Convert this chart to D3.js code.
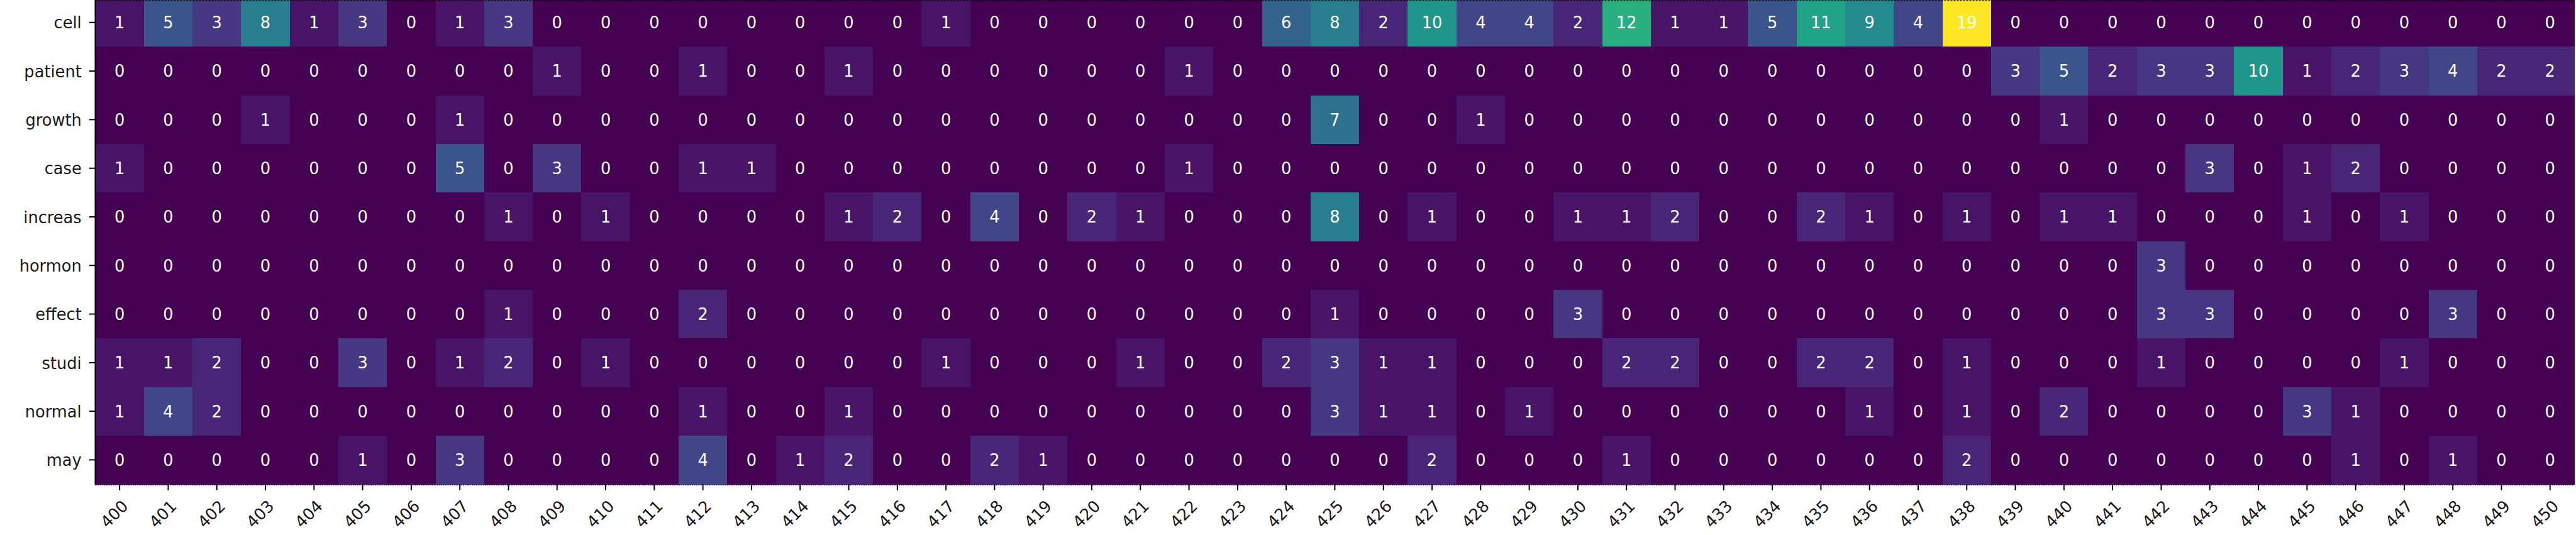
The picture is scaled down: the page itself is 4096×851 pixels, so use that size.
<!DOCTYPE html>
<html>
<head>
<meta charset="utf-8">
<script src="https://cdn.jsdelivr.net/npm/d3@7"></script>
<style>
  html, body { margin: 0; padding: 0; background: #ffffff; overflow: hidden; }
  svg { display: block; }
</style>
</head>
<body>
<script>
// ---- data ----
const columns = [400,401,402,403,404,405,406,407,408,409,410,411,412,413,414,415,416,417,418,419,420,421,422,423,424,425,426,427,428,429,430,431,432,433,434,435,436,437,438,439,440,441,442,443,444,445,446,447,448,449,450];
const terms = ["cell","patient","growth","case","increas","hormon","effect","studi","normal","may"];

const cell    = [1,5,3,8,1,3,0,1,3,0,0,0,0,0,0,0,0,1,0,0,0,0,0,0,6,8,2,10,4,4,2,12,1,1,5,11,9,4,19,0,0,0,0,0,0,0,0,0,0,0,0];
const patient = [0,0,0,0,0,0,0,0,0,1,0,0,1,0,0,1,0,0,0,0,0,0,1,0,0,0,0,0,0,0,0,0,0,0,0,0,0,0,0,3,5,2,3,3,10,1,2,3,4,2,2];
const growth  = [0,0,0,1,0,0,0,1,0,0,0,0,0,0,0,0,0,0,0,0,0,0,0,0,0,7,0,0,1,0,0,0,0,0,0,0,0,0,0,0,1,0,0,0,0,0,0,0,0,0,0];
const caseRow = [1,0,0,0,0,0,0,5,0,3,0,0,1,1,0,0,0,0,0,0,0,0,1,0,0,0,0,0,0,0,0,0,0,0,0,0,0,0,0,0,0,0,0,3,0,1,2,0,0,0,0];
const increas = [0,0,0,0,0,0,0,0,1,0,1,0,0,0,0,1,2,0,4,0,2,1,0,0,0,8,0,1,0,0,1,1,2,0,0,2,1,0,1,0,1,1,0,0,0,1,0,1,0,0,0];
const hormon  = [0,0,0,0,0,0,0,0,0,0,0,0,0,0,0,0,0,0,0,0,0,0,0,0,0,0,0,0,0,0,0,0,0,0,0,0,0,0,0,0,0,0,3,0,0,0,0,0,0,0,0];
const effect  = [0,0,0,0,0,0,0,0,1,0,0,0,2,0,0,0,0,0,0,0,0,0,0,0,0,1,0,0,0,0,3,0,0,0,0,0,0,0,0,0,0,0,3,3,0,0,0,0,3,0,0];
const studi   = [1,1,2,0,0,3,0,1,2,0,1,0,0,0,0,0,0,1,0,0,0,1,0,0,2,3,1,1,0,0,0,2,2,0,0,2,2,0,1,0,0,0,1,0,0,0,0,1,0,0,0];
const normal  = [1,4,2,0,0,0,0,0,0,0,0,0,1,0,0,1,0,0,0,0,0,0,0,0,0,3,1,1,0,1,0,0,0,0,0,0,1,0,1,0,2,0,0,0,0,3,1,0,0,0,0];
const may     = [0,0,0,0,0,1,0,3,0,0,0,0,4,0,1,2,0,0,2,1,0,0,0,0,0,0,0,2,0,0,0,1,0,0,0,0,0,0,2,0,0,0,0,0,0,0,1,0,1,0,0];

const rowValues = [cell, patient, growth, caseRow, increas, hormon, effect, studi, normal, may];
const colorMin = 0, colorMax = 19;

// ---- layout ----
const W = 4096, H = 851, s = 0.973;
const x0 = 155.7 * s, x1 = 4207 * s;
const y0 = -3 * s, y1 = 791.5 * s;
const font = "'DejaVu Sans', sans-serif";
const fs = 26.4 * s;

const cells = [];
terms.forEach((t, i) => columns.forEach((c, j) => cells.push({term: t, col: c, v: rowValues[i][j]})));

const x = d3.scaleBand().domain(columns).range([x0, x1]).padding(0);
const y = d3.scaleBand().domain(terms).range([y0, y1]).padding(0);
const color = d3.scaleSequential(d3.interpolateViridis).domain([colorMin, colorMax]);

const svg = d3.select("body").append("svg").attr("width", W).attr("height", H);

svg.append("g").attr("shape-rendering", "crispEdges")
  .selectAll("rect").data(cells).join("rect")
  .attr("x", d => x(d.col)).attr("y", d => y(d.term))
  .attr("width", x.bandwidth() + 0.5).attr("height", y.bandwidth() + 0.5)
  .attr("fill", d => color(d.v));

svg.append("g").selectAll("text").data(cells).join("text")
  .attr("x", d => x(d.col) + x.bandwidth() / 2)
  .attr("y", d => y(d.term) + y.bandwidth() / 2)
  .attr("dy", "0.365em")
  .attr("text-anchor", "middle")
  .attr("font-family", font).attr("font-size", fs)
  .attr("fill", "#ffffff")
  .text(d => d.v);

// top / bottom dotted edges
svg.append("line").attr("x1", x0).attr("x2", x1).attr("y1", 0.8).attr("y2", 0.8)
  .attr("stroke", "#000").attr("stroke-width", 1.4).attr("stroke-dasharray", "3,2").attr("opacity", 0.8);
svg.append("line").attr("x1", x0).attr("x2", x1).attr("y1", y1 + 1.2).attr("y2", y1 + 1.2)
  .attr("stroke", "#000").attr("stroke-width", 1.6).attr("stroke-dasharray", "2,1.5").attr("opacity", 0.75);

// y axis
const yAxis = svg.append("g").attr("transform", `translate(${x0},0)`)
  .call(d3.axisLeft(y).tickSize(10 * s).tickPadding(12.4 * s));
yAxis.select(".domain").remove();
yAxis.selectAll(".tick line").attr("stroke", "#000").attr("stroke-width", 2 * s);
yAxis.selectAll(".tick text")
  .attr("font-family", font).attr("font-size", fs).attr("fill", "#1a1a1a")
  .attr("dy", "0.38em");

// x axis
const xAxis = svg.append("g").attr("transform", `translate(0,${y1})`)
  .call(d3.axisBottom(x).tickSize(10 * s));
xAxis.select(".domain").remove();
xAxis.selectAll(".tick line").attr("stroke", "#000").attr("stroke-width", 2 * s);
xAxis.selectAll(".tick text")
  .attr("font-family", font).attr("font-size", fs).attr("fill", "#1a1a1a")
  .attr("x", null).attr("y", null).attr("dy", "0.365em")
  .attr("text-anchor", "middle")
  .attr("transform", `translate(${-9 * s},${48.5 * s}) rotate(-45)`);

// left spine
svg.append("line").attr("x1", x0).attr("x2", x0).attr("y1", 0).attr("y2", y1 + 1)
  .attr("stroke", "#000").attr("stroke-width", 2 * s);
</script>
</body>
</html>
